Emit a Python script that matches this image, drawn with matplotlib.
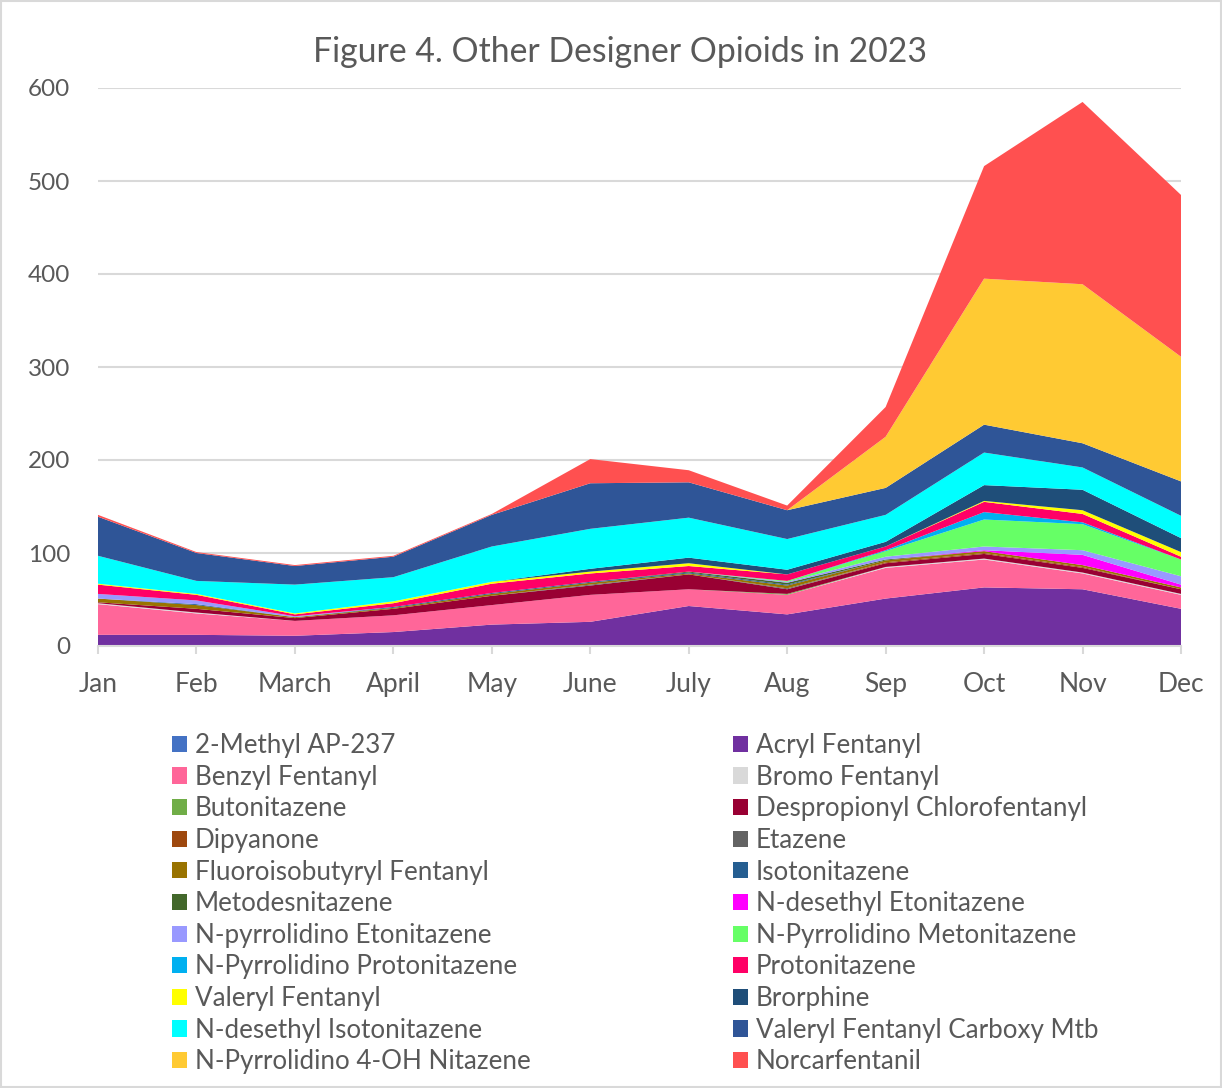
import matplotlib
matplotlib.use("Agg")
import matplotlib.pyplot as plt
from matplotlib.patches import Patch, Rectangle
import numpy as np

months = ["Jan", "Feb", "March", "April", "May", "June", "July", "Aug", "Sep", "Oct", "Nov", "Dec"]

names = ["2-Methyl AP-237", "Acryl Fentanyl", "Benzyl Fentanyl", "Bromo Fentanyl",
         "Butonitazene", "Despropionyl Chlorofentanyl", "Dipyanone", "Etazene",
         "Fluoroisobutyryl Fentanyl", "Isotonitazene", "Metodesnitazene",
         "N-desethyl Etonitazene", "N-pyrrolidino Etonitazene", "N-Pyrrolidino Metonitazene",
         "N-Pyrrolidino Protonitazene", "Protonitazene", "Valeryl Fentanyl", "Brorphine",
         "N-desethyl Isotonitazene", "Valeryl Fentanyl Carboxy Mtb",
         "N-Pyrrolidino 4-OH Nitazene", "Norcarfentanil"]

methyl_ap237     = [0, 0, 0, 0, 1, 0, 0, 0, 0, 0, 0, 0]
acryl            = [12, 12, 11, 15, 22, 26, 43, 34, 51, 63, 61, 40]
benzyl           = [33, 23, 16, 18, 21, 29, 18, 21, 33, 30, 17, 15]
bromo            = [1, 1, 0, 0, 0, 0, 0, 0, 1, 1, 1, 1]
butonitazene     = [0, 0, 0, 0, 0, 0, 0, 1, 0, 0, 0, 0]
despropionyl     = [1, 4, 3, 7, 10, 10, 16, 5, 4, 5, 5, 5]
dipyanone        = [0, 0, 0, 0, 0, 0, 0, 0, 1, 1, 1, 0]
etazene          = [0, 0, 0, 0, 0, 1, 0, 1, 0, 0, 0, 0]
fluoroisobutyryl = [4, 4, 1, 1, 2, 2, 1, 3, 2, 2, 2, 2]
isotonitazene    = [0, 1, 0, 1, 1, 1, 1, 1, 0, 0, 0, 0]
metodesnitazene  = [0, 0, 0, 0, 0, 0, 1, 2, 1, 0, 0, 0]
ndesethyl_eto    = [0, 0, 0, 0, 0, 0, 0, 0, 0, 1, 11, 3]
npyrr_eto        = [5, 4, 1, 0, 0, 0, 0, 1, 3, 4, 5, 9]
npyrr_meto       = [0, 0, 0, 0, 0, 0, 0, 1, 6, 29, 28, 18]
npyrr_proto      = [0, 0, 0, 0, 0, 0, 0, 0, 1, 8, 2, 0]
protonitazene    = [10, 6, 2, 4, 10, 9, 6, 7, 4, 11, 9, 3]
valeryl          = [1, 1, 1, 2, 2, 2, 3, 0, 0, 1, 4, 5]
brorphine        = [0, 0, 0, 0, 0, 3, 6, 5, 5, 17, 22, 15]
ndesethyl_iso    = [30, 14, 31, 26, 38, 43, 43, 33, 29, 35, 24, 24]
vf_carboxy       = [42, 30, 20, 22, 34, 49, 38, 31, 29, 30, 26, 37]
npyrr_4oh        = [0, 0, 0, 0, 0, 0, 0, 0, 55, 157, 171, 134]
norcarfentanil   = [2, 1, 1, 1, 1, 26, 13, 5, 32, 121, 196, 174]

series = [methyl_ap237, acryl, benzyl, bromo, butonitazene, despropionyl, dipyanone,
          etazene, fluoroisobutyryl, isotonitazene, metodesnitazene, ndesethyl_eto,
          npyrr_eto, npyrr_meto, npyrr_proto, protonitazene, valeryl, brorphine,
          ndesethyl_iso, vf_carboxy, npyrr_4oh, norcarfentanil]

colors = ["#4472C4", "#7030A0", "#FF6699", "#D9D9D9", "#70AD47", "#990033", "#9E480E",
          "#636363", "#997300", "#255E91", "#43682B", "#FF00FF", "#9999FF", "#66FF66",
          "#00B0F0", "#FF0066", "#FFFF00", "#1F4E79", "#00FFFF", "#2F5597",
          "#FFCA33", "#FF5050"]

plt.rcParams['font.family'] = ['Lato', 'DejaVu Sans']
txt = "#595959"

fig = plt.figure(figsize=(12.22, 10.88), dpi=100)
ax = fig.add_axes([98/1222, 1-646/1088, (1181-98)/1222, (646-88)/1088])

x = np.arange(len(months))
ax.stackplot(x, *series, colors=colors, linewidth=0)

ax.set_xlim(0, 11)
ax.set_ylim(0, 600)
ax.set_yticks(range(0, 601, 100))
ax.yaxis.grid(True, color="#D9D9D9", linewidth=1.5)
ax.set_axisbelow(True)
ax.set_xticks(x)
ax.set_xticklabels(months)
for s in ["top", "right", "left"]:
    ax.spines[s].set_visible(False)
ax.spines["bottom"].set_color("#D9D9D9")
ax.spines["bottom"].set_linewidth(1.5)
ax.tick_params(axis="y", length=0, pad=20, labelsize=17.5, labelcolor=txt)
ax.tick_params(axis="x", length=6, width=1.5, color="#D9D9D9", pad=13, labelsize=19, labelcolor=txt)

fig.text(0.507, 1-52/1088, "Figure 4. Other Designer Opioids in 2023", ha="center", va="center",
         fontsize=24.3, color=txt)

handles = [Patch(facecolor=c, edgecolor="none") for c in colors]
left = list(range(0, 22, 2))
right = list(range(1, 22, 2))
for idx, xpos in [(left, 172/1222), (right, 733/1222)]:
    fig.legend([handles[i] for i in idx], [names[i] for i in idx], loc="upper left",
               bbox_to_anchor=(xpos, 1-733/1088), frameon=False, fontsize=18.75,
               labelcolor=txt, handlelength=0.58, handleheight=0.58, handletextpad=0.3,
               labelspacing=0.255, borderpad=0, borderaxespad=0)

fig.patches.append(Rectangle((0.001, 0.001), 0.998, 0.998, transform=fig.transFigure,
                             fill=False, edgecolor="#D9D9D9", linewidth=1.5))

fig.savefig("out.png", dpi=100)
